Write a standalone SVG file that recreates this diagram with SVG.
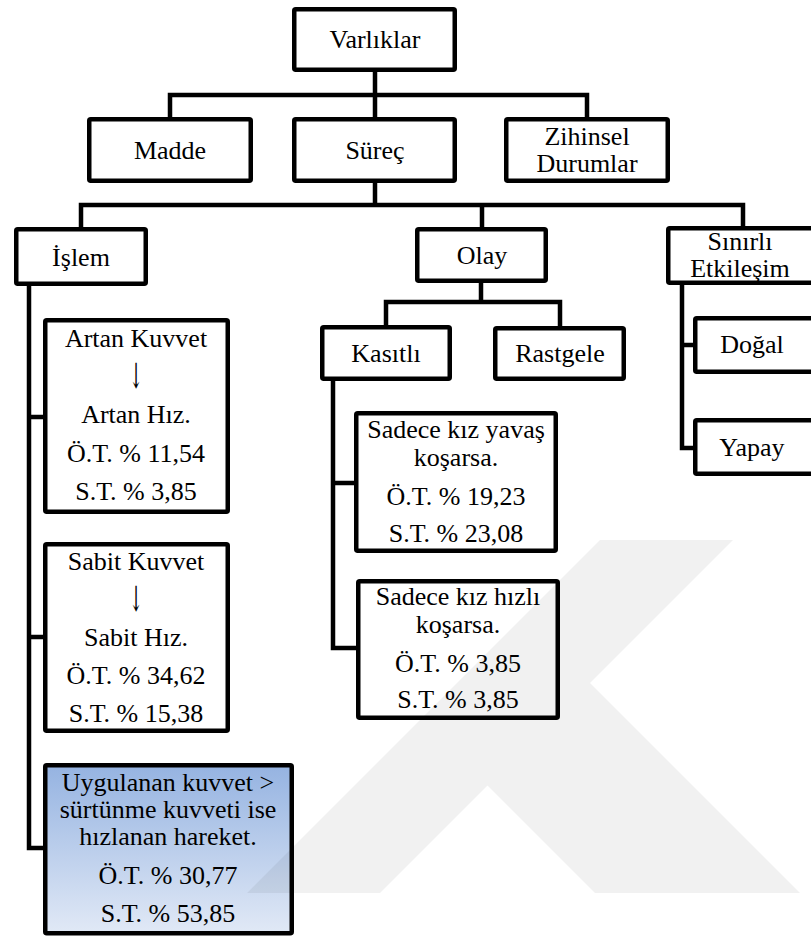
<svg xmlns="http://www.w3.org/2000/svg" width="811" height="936" viewBox="0 0 811 936">
  <defs>
    <linearGradient id="blueFill" x1="0" y1="0" x2="0" y2="1">
      <stop offset="0" stop-color="#95b3e1"/>
      <stop offset="1" stop-color="#e1e9f6"/>
    </linearGradient>
    <style>
      .box { fill: #ffffff; stroke: #000000; stroke-width: 4.5; }
      .box.blue { fill: url(#blueFill); }
      .wire { fill: none; stroke: #000000; stroke-width: 4.5; stroke-linejoin: miter; stroke-linecap: square; }
      .lbl { font-family: "Liberation Serif", "Times New Roman", serif; font-size: 26px; fill: #000000; text-anchor: middle; }
      .arrow { font-family: "DejaVu Serif", serif; font-size: 24px; fill: #000000; }
      .mark { fill: #000000; fill-opacity: 0.055; }
    </style>
  </defs>

  <rect width="811" height="936" fill="#ffffff"/>

  <!-- connectors -->
  <g id="connectors">
    <path class="wire" d="M375 72 V95 M170 117 V95 H587 V117 M375 95 V117"/>
    <path class="wire" d="M375 183 V205 M81 227 V205 H743 V226 M482 205 V227"/>
    <path class="wire" d="M29 286 V848 H43 M29 417 H43 M29 637 H43"/>
    <path class="wire" d="M481 283 V302 M386 325 V302 H560 V326"/>
    <path class="wire" d="M333 381 V648 H356 M333 483 H354"/>
    <path class="wire" d="M682 285 V448 H693 M682 345 H693"/>
  </g>

  <g class="lbl">
  <!-- level 0 -->
  <g id="varliklar">
    <rect class="box" x="294.25" y="9.25" width="160.5" height="60.5" rx="1.5"/>
    <text x="375" y="48">Varlıklar</text>
  </g>

  <!-- level 1 -->
  <g id="madde">
    <rect class="box" x="89.25" y="119.25" width="161.5" height="61.5" rx="1.5"/>
    <text x="170" y="159">Madde</text>
  </g>
  <g id="surec">
    <rect class="box" x="294.25" y="119.25" width="160.5" height="61.5" rx="1.5"/>
    <text x="375" y="159">Süreç</text>
  </g>
  <g id="zihinsel">
    <rect class="box" x="506.25" y="119.25" width="161.5" height="61.5" rx="1.5"/>
    <text x="587" y="145">Zihinsel</text>
    <text x="587" y="172">Durumlar</text>
  </g>

  <!-- level 2 -->
  <g id="islem">
    <rect class="box" x="16.25" y="229.25" width="129.5" height="54.5" rx="1.5"/>
    <text x="81" y="266">İşlem</text>
  </g>
  <g id="olay">
    <rect class="box" x="417.25" y="229.25" width="128.5" height="51.5" rx="1.5"/>
    <text x="482" y="264">Olay</text>
  </g>
  <g id="sinirli">
    <rect class="box" x="668.25" y="228.25" width="145" height="54.5" rx="1.5"/>
    <text x="740" y="250">Sınırlı</text>
    <text x="740" y="277">Etkileşim</text>
  </g>

  <!-- level 3 -->
  <g id="kasitli">
    <rect class="box" x="322.25" y="327.25" width="127.5" height="51.5" rx="1.5"/>
    <text x="386" y="362">Kasıtlı</text>
  </g>
  <g id="rastgele">
    <rect class="box" x="495.25" y="328.25" width="128.5" height="50.5" rx="1.5"/>
    <text x="560" y="362">Rastgele</text>
  </g>
  <g id="dogal">
    <rect class="box" x="695.25" y="318.25" width="118" height="53.5" rx="1.5"/>
    <text x="752" y="353">Doğal</text>
  </g>
  <g id="yapay">
    <rect class="box" x="695.25" y="420.25" width="118" height="53.5" rx="1.5"/>
    <text x="752" y="456">Yapay</text>
  </g>

  <!-- İşlem details -->
  <g id="artan">
    <rect class="box" x="45.25" y="320.25" width="182.5" height="191.5" rx="1.5"/>
    <text x="136" y="347">Artan Kuvvet</text>
    <text class="arrow" transform="translate(136 388) scale(0.7 1.45)">↓</text>
    <text x="136" y="423">Artan Hız.</text>
    <text x="136" y="462">Ö.T. % 11,54</text>
    <text x="136" y="500">S.T. % 3,85</text>
  </g>
  <g id="sabit">
    <rect class="box" x="45.25" y="544.25" width="182.5" height="186.5" rx="1.5"/>
    <text x="136" y="570">Sabit Kuvvet</text>
    <text class="arrow" transform="translate(136 611) scale(0.7 1.45)">↓</text>
    <text x="136" y="646">Sabit Hız.</text>
    <text x="136" y="684">Ö.T. % 34,62</text>
    <text x="136" y="722">S.T. % 15,38</text>
  </g>
  <g id="uygulanan">
    <rect class="box blue" x="45.25" y="765.25" width="246.5" height="168" rx="1.5"/>
    <text x="168" y="791">Uygulanan kuvvet &gt;</text>
    <text x="168" y="818">sürtünme kuvveti ise</text>
    <text x="168" y="845">hızlanan hareket.</text>
    <text x="168" y="884">Ö.T. % 30,77</text>
    <text x="168" y="922">S.T. % 53,85</text>
  </g>

  <!-- Kasıtlı details -->
  <g id="yavas">
    <rect class="box" x="356.25" y="413.25" width="199.5" height="137.5" rx="1.5"/>
    <text x="456" y="438">Sadece kız yavaş</text>
    <text x="456" y="466">koşarsa.</text>
    <text x="456" y="505">Ö.T. % 19,23</text>
    <text x="456" y="542">S.T. % 23,08</text>
  </g>
  <g id="hizli">
    <rect class="box" x="358.25" y="581.25" width="199.5" height="136.5" rx="1.5"/>
    <text x="458" y="605">Sadece kız hızlı</text>
    <text x="458" y="633">koşarsa.</text>
    <text x="458" y="672">Ö.T. % 3,85</text>
    <text x="458" y="708">S.T. % 3,85</text>
  </g>
  </g>

  <!-- faint background emblem: long stroke and short leg, filled as one shape -->
  <g id="emblem">
    <path class="mark" d="M600 540 H733 L380 893 H247 Z M590 683 L800 893 H595 L482 780 Z"/>
  </g>
</svg>
